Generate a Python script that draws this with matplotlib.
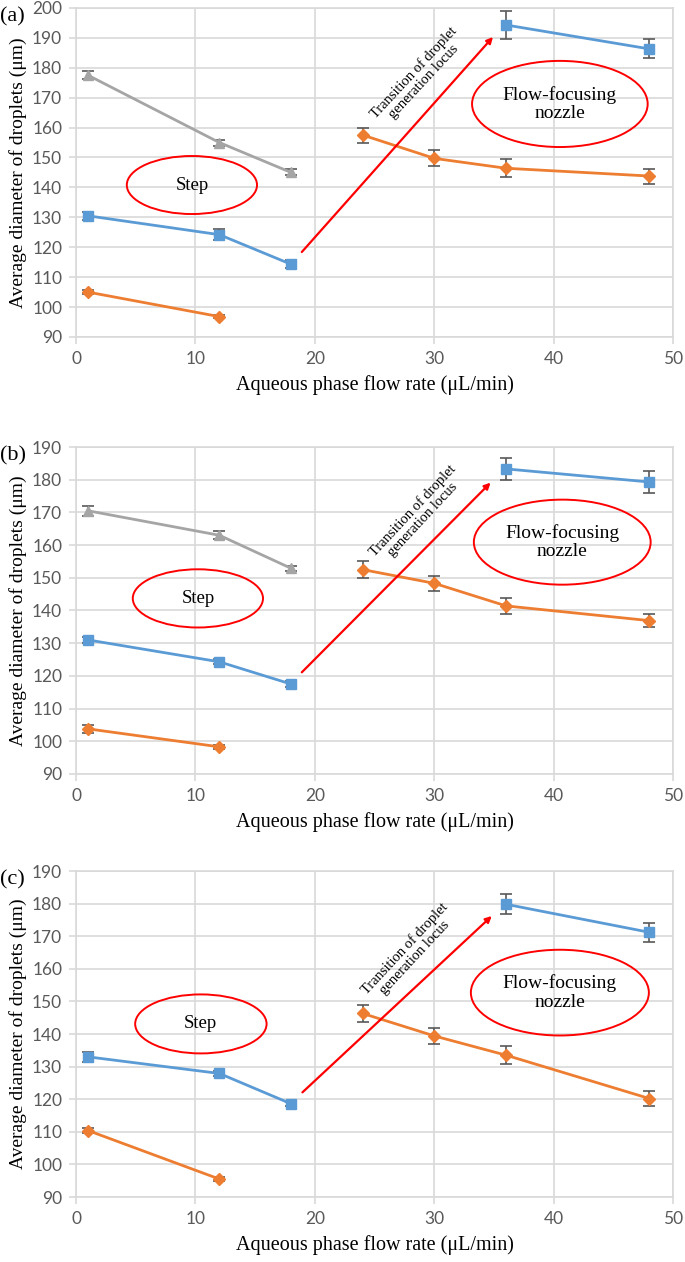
import numpy as np
import matplotlib.pyplot as plt
from matplotlib.patches import Ellipse

# x positions (aqueous phase flow rate, uL/min)
x_step = [1, 12, 18]
x_ffn = [24, 30, 36, 48]
x_ffn_blue = [36, 48]

# panel (a)
a_gray = [177.5, 155.0, 145.0]
a_gray_err = [1.3, 1.0, 1.0]
a_blue = [130.5, 124.2, 114.3]
a_blue_err = [1.3, 1.8, 1.3]
a_orange = [105.0, 96.8]
a_orange_err = [0.8, 0.6]
a_blue2 = [194.3, 186.3]
a_blue2_err = [4.7, 3.2]
a_orange2 = [157.5, 149.7, 146.4, 143.8]
a_orange2_err = [2.5, 2.7, 3.0, 2.5]

# panel (b)
b_gray = [170.5, 163.0, 152.9]
b_gray_err = [1.5, 1.2, 0.8]
b_blue = [131.0, 124.3, 117.5]
b_blue_err = [0.8, 0.8, 0.8]
b_orange = [103.8, 98.3]
b_orange_err = [1.2, 0.6]
b_blue2 = [183.3, 179.3]
b_blue2_err = [3.4, 3.3]
b_orange2 = [152.5, 148.3, 141.4, 136.9]
b_orange2_err = [2.5, 2.2, 2.5, 2.1]

# panel (c)
c_blue = [133.0, 127.9, 118.6]
c_blue_err = [1.5, 0.8, 0.6]
c_orange = [110.4, 95.5]
c_orange_err = [0.8, 0.5]
c_blue2 = [179.8, 171.2]
c_blue2_err = [3.1, 3.0]
c_orange2 = [146.3, 139.4, 133.5, 120.2]
c_orange2_err = [2.6, 2.5, 2.7, 2.3]

panels = [
    dict(tag="(a)", ymax=200, gray=a_gray, gray_err=a_gray_err, blue=a_blue, blue_err=a_blue_err,
         orange=a_orange, orange_err=a_orange_err, blue2=a_blue2, blue2_err=a_blue2_err,
         orange2=a_orange2, orange2_err=a_orange2_err,
         arrow=((18.9, 118.4), (34.9, 190.3)), arrow_txt=(28.7, 176.9),
         step=(9.7, 140.8, 10.9, 19.4), ffn=(40.5, 167.9, 14.7, 28.8)),
    dict(tag="(b)", ymax=190, gray=b_gray, gray_err=b_gray_err, blue=b_blue, blue_err=b_blue_err,
         orange=b_orange, orange_err=b_orange_err, blue2=b_blue2, blue2_err=b_blue2_err,
         orange2=b_orange2, orange2_err=b_orange2_err,
         arrow=((18.9, 121.1), (34.7, 179.1)), arrow_txt=(28.6, 169.2),
         step=(10.2, 143.7, 10.9, 17.8), ffn=(40.7, 160.9, 14.8, 26.0)),
    dict(tag="(c)", ymax=190, gray=None, gray_err=None, blue=c_blue, blue_err=c_blue_err,
         orange=c_orange, orange_err=c_orange_err, blue2=c_blue2, blue2_err=c_blue2_err,
         orange2=c_orange2, orange2_err=c_orange2_err,
         arrow=((18.95, 122.1), (34.8, 176.2)), arrow_txt=(27.9, 164.9),
         step=(10.45, 143.1, 11.0, 18.1), ffn=(40.5, 152.7, 14.9, 26.3)),
]

blue = "#5B9BD5"
orange = "#ED7D31"
gray = "#A5A5A5"
errc = "#595959"
serif = "Liberation Serif"

fig = plt.figure(figsize=(6.85, 12.62), dpi=100)
boxes = [(0.111, 0.733, 0.872, 0.2607),
         (0.111, 0.3867, 0.872, 0.2591),
         (0.111, 0.0515, 0.872, 0.2583)]

for p, box in zip(panels, boxes):
    ax = fig.add_axes(box)
    ekw = dict(ecolor=errc, elinewidth=1.2, capsize=4, capthick=1.2, lw=2, zorder=3)
    if p["gray"] is not None:
        ax.errorbar(x_step, p["gray"], yerr=p["gray_err"], color=gray, marker="^", ms=7.5, **ekw)
    ax.errorbar(x_step, p["blue"], yerr=p["blue_err"], color=blue, marker="s", ms=7, **ekw)
    ax.errorbar(x_step[:2], p["orange"], yerr=p["orange_err"], color=orange, marker="D", ms=6, **ekw)
    ax.errorbar(x_ffn_blue, p["blue2"], yerr=p["blue2_err"], color=blue, marker="s", ms=7, **ekw)
    ax.errorbar(x_ffn, p["orange2"], yerr=p["orange2_err"], color=orange, marker="D", ms=6, **ekw)

    (x0, y0), (x1, y1) = p["arrow"]
    ax.annotate("", xy=(x1, y1), xytext=(x0, y0),
                arrowprops=dict(arrowstyle="-|>", color="red", lw=1.6, mutation_scale=9,
                                shrinkA=0, shrinkB=0), zorder=4)
    tx, ty = p["arrow_txt"]
    ax.text(tx, ty, "Transition of droplet\ngeneration locus", rotation=47,
            rotation_mode="anchor", ha="center", va="center", fontsize=10.5,
            family=serif, linespacing=1.0, zorder=5)

    sx, sy, sw, sh = p["step"]
    ax.add_patch(Ellipse((sx, sy), sw, sh, fill=False, ec="red", lw=1.4, zorder=4))
    ax.text(sx, sy, "Step", ha="center", va="center", fontsize=13.5, family=serif)
    fx, fy, fw, fh = p["ffn"]
    ax.add_patch(Ellipse((fx, fy), fw, fh, fill=False, ec="red", lw=1.4, zorder=4))
    ax.text(fx, fy, "Flow-focusing\nnozzle", ha="center", va="center", fontsize=14,
            family=serif, linespacing=1.1)

    ax.set_xlim(0, 50)
    ax.set_ylim(90, p["ymax"])
    ax.set_xticks(np.arange(0, 51, 10))
    ax.set_yticks(np.arange(90, p["ymax"] + 1, 10))
    ax.grid(True, color="#d9d9d9", lw=1.2)
    ax.set_axisbelow(True)
    for s in ax.spines.values():
        s.set_color("#d9d9d9")
        s.set_linewidth(1.2)
    ax.tick_params(colors="#d9d9d9", labelcolor="#595959", length=5, width=1.2,
                   labelsize=12.5, pad=5)
    for lab in ax.get_xticklabels() + ax.get_yticklabels():
        lab.set_family("Lato")
    ax.set_xlabel("Aqueous phase flow rate (μL/min)", fontsize=14.5, family=serif, labelpad=6)
    ax.set_ylabel("Average diameter of droplets (μm)", fontsize=14, family=serif)
    ax.yaxis.set_label_coords(-0.082, 0.5)

    top_px = (1 - box[1] - box[3]) * 1262
    fig.text(0.0, 1 - (top_px + 9) / 1262, p["tag"], fontsize=16, family=serif,
             ha="left", va="center")

fig.savefig("out.png", dpi=100)
